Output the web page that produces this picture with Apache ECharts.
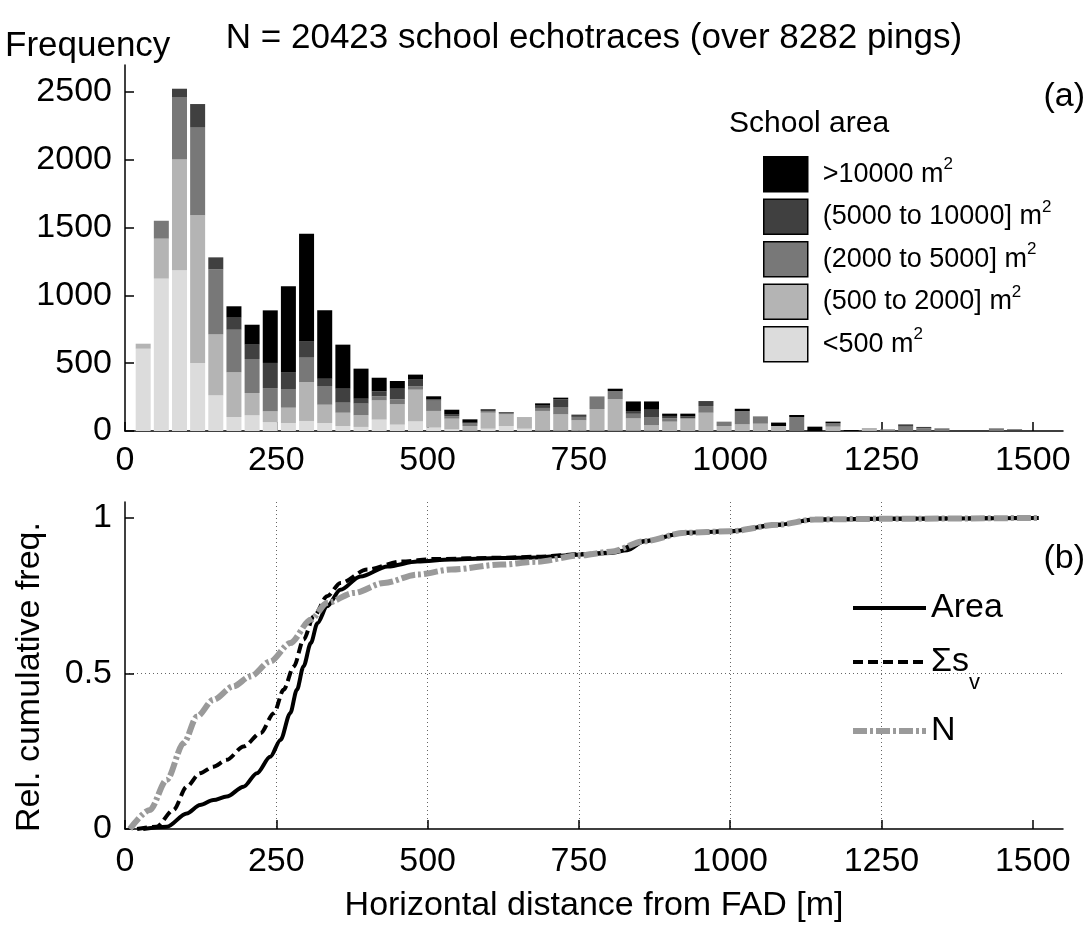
<!DOCTYPE html>
<html>
<head>
<meta charset="utf-8">
<script src="https://cdn.jsdelivr.net/npm/echarts@6/dist/echarts.min.js"></script>
<style>
  html, body { margin: 0; padding: 0; background: #fff; }
  #chart { width: 1089px; height: 929px; }
</style>
</head>
<body>
<div id="chart"></div>
<script>
const FONT = 'Liberation Sans, Arial, Helvetica, sans-serif'

// (a) histogram, bin centres in metres (30 m bins)
const bins = [30, 60, 90, 120, 150, 180, 210, 240, 270, 300, 330, 360, 390, 420, 450, 480, 510, 540, 570, 600,
  630, 660, 690, 720, 750, 780, 810, 840, 870, 900, 930, 960, 990, 1020, 1050, 1080, 1110, 1140, 1170, 1200,
  1230, 1260, 1290, 1320, 1350, 1380, 1410, 1440, 1470, 1500]
const areaLt500 = [607, 1124, 1185, 502, 263, 103, 116, 66, 59, 74, 59, 37, 30, 84, 47, 71, 25, 12, 5, 17,
  37, 17, 3, 3, 3, 3, 3, 3, 3, 0, 0, 0, 0, 0, 0, 0, 0, 0, 0, 0,
  0, 0, 0, 0, 0, 0, 0, 0, 0, 0]
const area500to2000 = [37, 295, 819, 1089, 448, 330, 164, 79, 113, 287, 135, 98, 86, 142, 150, 234, 123, 79, 32, 118,
  86, 86, 145, 120, 76, 159, 233, 90, 39, 69, 93, 135, 37, 49, 54, 37, 0, 0, 32, 0,
  22, 5, 0, 0, 0, 0, 0, 0, 0, 0]
const area2000to5000 = [0, 132, 460, 651, 482, 314, 251, 172, 138, 180, 138, 74, 86, 30, 37, 24, 76, 18, 18, 12,
  10, 0, 22, 54, 25, 93, 59, 34, 61, 25, 0, 49, 32, 98, 54, 0, 103, 0, 25, 0,
  0, 7, 32, 20, 20, 0, 0, 20, 0, 0]
const area5000to10000 = [0, 0, 61, 170, 88, 89, 106, 185, 125, 120, 54, 103, 36, 37, 78, 50, 10, 12, 6, 8,
  5, 0, 17, 57, 17, 0, 0, 20, 54, 17, 15, 37, 0, 0, 0, 0, 0, 0, 0, 0,
  0, 0, 17, 10, 0, 0, 0, 0, 12, 0]
const areaGt10000 = [0, 0, 0, 0, 0, 84, 147, 388, 632, 795, 504, 325, 222, 100, 57, 37, 22, 36, 25, 5,
  2, 0, 17, 12, 0, 0, 17, 71, 61, 17, 20, 0, 0, 17, 0, 25, 15, 32, 12, 7,
  0, 0, 0, 0, 0, 0, 0, 0, 0, 0]

const classNames = ['<500', '(500 to 2000]', '(2000 to 5000]', '(5000 to 10000]', '>10000']
const classColors = ['#dcdcdc', '#b4b4b4', '#787878', '#404040', '#000000']
const classValues = [areaLt500, area500to2000, area2000to5000, area5000to10000, areaGt10000]

// (b) cumulative curves
const cumAreaX = [30, 69, 102, 124, 146, 168, 196, 218, 240, 257, 273, 284, 295, 307, 318, 334, 356, 389, 434, 483,
  539, 621, 680, 750, 802, 830, 858, 925, 999, 1079, 1140, 1252, 1510]
const cumAreaY = [0, 0.007, 0.05, 0.077, 0.093, 0.104, 0.136, 0.179, 0.232, 0.286, 0.372, 0.447, 0.522, 0.597, 0.661,
  0.715, 0.768, 0.811, 0.843, 0.859, 0.865, 0.870, 0.872, 0.881, 0.886, 0.895, 0.924, 0.951, 0.956, 0.977, 0.994, 0.996, 0.999]
const cumSvX = [20, 52, 80, 102, 124, 146, 168, 196, 224, 246, 262, 279, 295, 312, 334, 356, 400, 456, 511, 621,
  680, 750, 802, 858, 925, 999, 1079, 1140, 1252, 1510]
const cumSvY = [0, 0.007, 0.061, 0.136, 0.179, 0.2, 0.222, 0.265, 0.308, 0.372, 0.447, 0.522, 0.608, 0.683, 0.747,
  0.79, 0.833, 0.859, 0.867, 0.871, 0.874, 0.882, 0.887, 0.924, 0.951, 0.956, 0.977, 0.994, 0.996, 0.999]
const cumNX = [8, 41, 69, 97, 119, 146, 179, 207, 240, 273, 307, 334, 378, 428, 483, 539, 621, 680, 750, 802,
  858, 925, 999, 1079, 1140, 1252, 1510]
const cumNY = [0, 0.061, 0.158, 0.276, 0.361, 0.415, 0.458, 0.49, 0.538, 0.597, 0.672, 0.726, 0.758, 0.79, 0.817,
  0.833, 0.849, 0.858, 0.878, 0.89, 0.924, 0.951, 0.956, 0.977, 0.994, 0.996, 0.999]

const xTicks = [0, 250, 500, 750, 1000, 1250, 1500]
const freqTicks = [0, 500, 1000, 1500, 2000, 2500]
const cumTicks = [0, 0.5, 1]

const pairs = (xs, ys) => xs.map((x, i) => [x, ys[i]])

const axisLine = {show: true, lineStyle: {color: '#000', width: 1.5}}
const tickIn = (vals) => ({show: true, inside: true, length: 9, lineStyle: {color: '#000', width: 1.5}, customValues: vals})
const label = (vals, margin) => ({
  color: '#000', fontSize: 34, fontFamily: FONT, margin, customValues: vals,
  formatter: v => String(v)
})
const dotted = {show: true, showMinLine: false, showMaxLine: false, lineStyle: {color: '#666', width: 1, type: [1, 3]}}

const chart = echarts.init(document.getElementById('chart'), null, {renderer: 'canvas'})

// bars live on a hidden category axis whose bands line up with the 30 m bins
const barSeries = classNames.map((name, k) => ({
  name,
  type: 'bar',
  stack: 'area',
  xAxisIndex: 2,
  yAxisIndex: 2,
  barWidth: 15,
  itemStyle: {color: classColors[k]},
  emphasis: {disabled: true},
  data: classValues[k]
}))

const lineSeries = [
  {name: 'Area', data: pairs(cumAreaX, cumAreaY), lineStyle: {color: '#000', width: 4, type: 'solid'}, z: 4},
  {name: 'sv', data: pairs(cumSvX, cumSvY), lineStyle: {color: '#000', width: 4, type: [10, 5]}, z: 3},
  {name: 'N', data: pairs(cumNX, cumNY), lineStyle: {color: '#9a9a9a', width: 6, type: [14, 3, 3, 3]}, z: 5}
].map(s => Object.assign({
  type: 'line',
  xAxisIndex: 1,
  yAxisIndex: 1,
  showSymbol: false,
  symbol: 'none',
  smooth: 0.3,
  smoothMonotone: 'x',
  itemStyle: {color: s.lineStyle.color},
  emphasis: {disabled: true}
}, s))

chart.setOption({
  animation: false,
  backgroundColor: '#fff',
  textStyle: {fontFamily: FONT},
  grid: [
    {left: 125, right: 26, top: 65, height: 366},
    {left: 125, right: 26, top: 502, height: 327},
    {left: 134.1, width: 907.7, top: 65, height: 366}
  ],
  xAxis: [
    {
      gridIndex: 0, type: 'value', min: 0, max: 1550, interval: 250,
      axisLine, axisTick: tickIn(xTicks), axisLabel: label(xTicks, 13),
      splitLine: {show: false}
    },
    {
      gridIndex: 1, type: 'value', min: 0, max: 1550, interval: 250,
      axisLine, axisTick: tickIn(xTicks), axisLabel: label(xTicks, 16),
      splitLine: dotted
    },
    {
      gridIndex: 2, type: 'category', data: bins, boundaryGap: true, show: false
    }
  ],
  yAxis: [
    {
      gridIndex: 0, type: 'value', min: 0, max: 2700, interval: 500,
      axisLine, axisTick: tickIn(freqTicks), axisLabel: label(freqTicks, 13),
      splitLine: {show: false}
    },
    {
      gridIndex: 1, type: 'value', min: 0, max: 1.05, interval: 0.5,
      axisLine, axisTick: tickIn(cumTicks), axisLabel: label(cumTicks, 13),
      splitLine: dotted
    },
    {
      gridIndex: 2, type: 'value', min: 0, max: 2700, show: false
    }
  ],
  legend: [
    {
      data: classNames.slice().reverse(),
      orient: 'vertical',
      left: 758,
      top: 151,
      icon: 'rect',
      itemWidth: 44,
      itemHeight: 35,
      itemGap: 6,
      selectedMode: false,
      itemStyle: {borderColor: '#000', borderWidth: 1.5},
      formatter: name => `{t|${name} m}{sup|2}`,
      textStyle: {
        padding: [0, 0, 0, 10],
        rich: {
          t: {fontSize: 27, lineHeight: 36, verticalAlign: 'middle', color: '#000', fontFamily: FONT},
          sup: {fontSize: 17, lineHeight: 17, verticalAlign: 'top', color: '#000', fontFamily: FONT}
        }
      }
    },
    {
      data: ['Area', 'sv', 'N'],
      orient: 'vertical',
      left: 845,
      top: 586,
      itemWidth: 73,
      itemHeight: 14,
      itemGap: 20,
      selectedMode: false,
      itemStyle: {opacity: 0},
      lineStyle: {width: 'inherit'},
      formatter: name => name === 'sv' ? '{m|Σs}{sub|v}' : (name === 'Area' ? '{a|Area}' : '{n|N}'),
      textStyle: {
        rich: {
          a: {fontSize: 34, lineHeight: 64, verticalAlign: 'middle', color: '#000', fontFamily: FONT},
          n: {fontSize: 34, lineHeight: 24, verticalAlign: 'middle', color: '#000', fontFamily: FONT},
          m: {fontSize: 34, lineHeight: 64, verticalAlign: 'middle', color: '#000', fontFamily: FONT},
          sub: {fontSize: 22, lineHeight: 22, verticalAlign: 'bottom', color: '#000', fontFamily: FONT}
        }
      }
    }
  ],
  graphic: [
    {type: 'text', x: 594, y: 38, style: {text: 'N = 20423 school echotraces (over 8282 pings)', fontSize: 35, fontFamily: FONT, fill: '#000', align: 'center', verticalAlign: 'middle'}},
    {type: 'text', left: 5, top: 29, style: {text: 'Frequency', fontSize: 35, fontFamily: FONT, fill: '#000'}},
    {type: 'text', left: 729, top: 109, style: {text: 'School area', fontSize: 30, fontFamily: FONT, fill: '#000'}},
    {type: 'text', right: 4, top: 80, style: {text: '(a)', fontSize: 34, fontFamily: FONT, fill: '#000'}},
    {type: 'text', right: 4, top: 542, style: {text: '(b)', fontSize: 34, fontFamily: FONT, fill: '#000'}},
    {type: 'text', x: 30, y: 677, rotation: Math.PI / 2, style: {text: 'Rel. cumulative freq.', fontSize: 34, fontFamily: FONT, fill: '#000', align: 'center', verticalAlign: 'middle'}},
    {type: 'text', x: 594, y: 906, style: {text: 'Horizontal distance from FAD [m]', fontSize: 34, fontFamily: FONT, fill: '#000', align: 'center', verticalAlign: 'middle'}}
  ],
  series: barSeries.concat(lineSeries)
})
</script>
</body>
</html>
